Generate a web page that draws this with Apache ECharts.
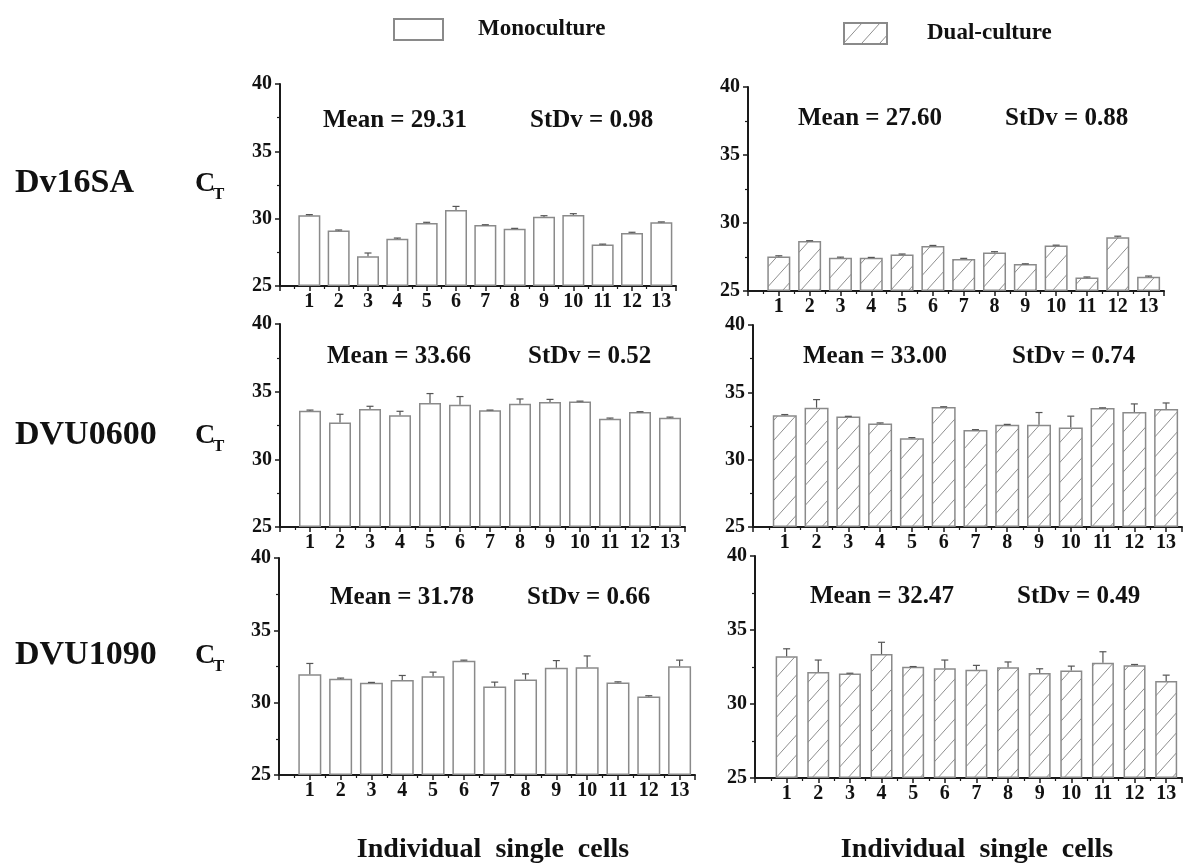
<!DOCTYPE html>
<html>
<head>
<meta charset="utf-8">
<script src="https://cdn.jsdelivr.net/npm/echarts@6/dist/echarts.min.js"></script>
<style>
  html, body { margin: 0; padding: 0; background: #fff; }
  #main { width: 1192px; height: 865px; }
</style>
</head>
<body>
<div id="main"></div>
<script>
// cells on the x axis
var cells = [1, 2, 3, 4, 5, 6, 7, 8, 9, 10, 11, 12, 13];

// CT values (bar height + error bar)
var monoDv16 = [30.25, 29.13, 27.20, 28.51, 29.68, 30.64, 29.53, 29.26, 30.15, 30.27, 28.09, 28.94, 29.73];
var monoDv16Err = [0.05, 0.03, 0.25, 0.05, 0.05, 0.27, 0.02, 0.02, 0.07, 0.10, 0.02, 0.05, 0.03];
var dualDv16 = [27.54, 28.67, 27.44, 27.44, 27.69, 28.30, 27.35, 27.84, 26.98, 28.35, 26.00, 28.96, 26.05];
var dualDv16Err = [0.05, 0.03, 0.05, 0.03, 0.03, 0.05, 0.05, 0.05, 0.02, 0.02, 0.03, 0.07, 0.05];

var monoDVU0600 = [33.59, 32.73, 33.72, 33.25, 34.16, 34.04, 33.62, 34.11, 34.23, 34.28, 33.00, 33.49, 33.07];
var monoDVU0600Err = [0.05, 0.60, 0.20, 0.30, 0.70, 0.60, 0.02, 0.35, 0.20, 0.02, 0.05, 0.03, 0.05];
var dualDVU0600 = [33.30, 33.86, 33.20, 32.68, 31.59, 33.91, 32.21, 32.60, 32.60, 32.38, 33.83, 33.54, 33.76];
var dualDVU0600Err = [0.05, 0.60, 0.02, 0.05, 0.05, 0.02, 0.02, 0.02, 0.90, 0.85, 0.02, 0.60, 0.45];

var monoDVU1090 = [31.97, 31.65, 31.37, 31.56, 31.83, 32.89, 31.12, 31.60, 32.41, 32.45, 31.39, 30.43, 32.52];
var monoDVU1090Err = [0.74, 0.05, 0.03, 0.32, 0.28, 0.05, 0.30, 0.39, 0.50, 0.78, 0.05, 0.05, 0.42];
var dualDVU1090 = [33.23, 32.17, 32.06, 33.37, 32.51, 32.42, 32.31, 32.49, 32.10, 32.26, 32.78, 32.62, 31.55];
var dualDVU1090Err = [0.50, 0.80, 0.02, 0.80, 0.02, 0.55, 0.30, 0.35, 0.28, 0.30, 0.75, 0.05, 0.40];

var genes = ['Dv16SA', 'DVU0600', 'DVU1090'];
var meanLabels = ['29.31', '27.60', '33.66', '33.00', '31.78', '32.47'];
var stdevLabels = ['0.98', '0.88', '0.52', '0.74', '0.66', '0.49'];
var yTicks = [25, 30, 35, 40];

var SERIF = '"Liberation Serif", "DejaVu Serif", serif';

// hatch tile for dual-culture bars
var hatch = document.createElement('canvas');
hatch.width = 18;
hatch.height = 20;
(function () {
  var ctx = hatch.getContext('2d');
  ctx.fillStyle = '#fff';
  ctx.fillRect(0, 0, 18, 20);
  ctx.strokeStyle = '#8f8f8f';
  ctx.lineWidth = 1;
  [-18, 0, 18].forEach(function (dx) {
    ctx.beginPath();
    ctx.moveTo(dx, 20);
    ctx.lineTo(dx + 18, 0);
    ctx.stroke();
  });
})();

// panel placement: left column = monoculture, right column = dual-culture
var panels = [
  { grid: { left: 280, top: 84, width: 396, height: 202 }, name: 'Monoculture', vals: monoDv16, errs: monoDv16Err, bw: 22, mx: 323, sx: 530, ty: 121 },
  { grid: { left: 748, top: 87, width: 416, height: 204 }, name: 'Dual-culture', vals: dualDv16, errs: dualDv16Err, bw: 23, mx: 798, sx: 1005, ty: 119 },
  { grid: { left: 280, top: 324, width: 405, height: 203 }, name: 'Monoculture', vals: monoDVU0600, errs: monoDVU0600Err, bw: 22, mx: 327, sx: 528, ty: 357 },
  { grid: { left: 753, top: 325, width: 429, height: 202 }, name: 'Dual-culture', vals: dualDVU0600, errs: dualDVU0600Err, bw: 24, mx: 803, sx: 1012, ty: 357 },
  { grid: { left: 279, top: 558, width: 416, height: 217 }, name: 'Monoculture', vals: monoDVU1090, errs: monoDVU1090Err, bw: 23, mx: 330, sx: 527, ty: 598 },
  { grid: { left: 755, top: 556, width: 427, height: 222 }, name: 'Dual-culture', vals: dualDVU1090, errs: dualDVU1090Err, bw: 22, mx: 810, sx: 1017, ty: 597 }
];

var axisColor = '#1a1a1a';
var labelStyle = { fontFamily: SERIF, fontWeight: 'bold', fontSize: 20, color: '#111' };

var grids = [], xAxes = [], yAxes = [], series = [];
var graphics = [];

function txt(x, y, s, size, align) {
  graphics.push({
    type: 'text',
    x: x, y: y,
    style: {
      text: s, fill: '#111', font: 'bold ' + size + 'px ' + SERIF,
      textAlign: align || 'left', textVerticalAlign: 'middle'
    }
  });
}

panels.forEach(function (p, i) {
  grids.push(p.grid);
  xAxes.push({
    type: 'value', gridIndex: i, min: 0, max: 13.5, interval: 1,
    axisLine: { lineStyle: { color: axisColor, width: 2 } },
    axisTick: { length: 5, lineStyle: { color: axisColor, width: 1.5 } },
    minorTick: { show: true, splitNumber: 2, length: 3, lineStyle: { color: axisColor, width: 1.2 } },
    splitLine: { show: false },
    axisLabel: Object.assign({
      margin: 6,
      formatter: function (v) { return cells.indexOf(v) >= 0 ? String(v) : ''; }
    }, labelStyle)
  });
  yAxes.push({
    type: 'value', gridIndex: i, min: yTicks[0], max: yTicks[yTicks.length - 1], interval: 5,
    startValue: yTicks[0],
    axisLine: { show: true, lineStyle: { color: axisColor, width: 2 } },
    axisTick: { show: true, length: 5, lineStyle: { color: axisColor, width: 1.5 } },
    minorTick: { show: true, splitNumber: 2, length: 3, lineStyle: { color: axisColor, width: 1.2 } },
    splitLine: { show: false },
    axisLabel: Object.assign({ margin: 8 }, labelStyle)
  });

  var dual = p.name === 'Dual-culture';
  series.push({
    type: 'bar', name: p.name, xAxisIndex: i, yAxisIndex: i,
    barWidth: p.bw, clip: true,
    itemStyle: {
      color: dual ? { image: hatch, repeat: 'repeat' } : '#fff',
      borderColor: '#8a8a8a', borderWidth: 1.5
    },
    emphasis: { disabled: true },
    data: cells.map(function (c, k) { return [c, p.vals[k]]; })
  });
  series.push({
    type: 'custom', xAxisIndex: i, yAxisIndex: i, silent: true,
    renderItem: function (params, api) {
      var x = api.value(0), y = api.value(1), e = api.value(2);
      var base = api.coord([x, y]);
      var top = api.coord([x, y + e]);
      var st = { stroke: '#555', lineWidth: 1.2 };
      return {
        type: 'group',
        children: [
          { type: 'line', shape: { x1: base[0], y1: base[1], x2: top[0], y2: top[1] }, style: st },
          { type: 'line', shape: { x1: top[0] - 3.5, y1: top[1], x2: top[0] + 3.5, y2: top[1] }, style: st }
        ]
      };
    },
    data: cells.map(function (c, k) { return [c, p.vals[k], p.errs[k]]; }),
    z: 3
  });

  txt(p.mx, p.ty, 'Mean = ' + meanLabels[i], 25);
  txt(p.sx, p.ty, 'StDv = ' + stdevLabels[i], 25);
});

// row labels with C_T
var rowY = [183, 435, 655];
genes.forEach(function (g, r) {
  txt(15, rowY[r], g, 34);
  txt(195, rowY[r] + 1, 'C', 28);
  txt(213, rowY[r] + 12, 'T', 17);
});

txt(493, 850, 'Individual  single  cells', 28, 'center');
txt(977, 850, 'Individual  single  cells', 28, 'center');

var legendText = { fontFamily: SERIF, fontWeight: 'bold', fontSize: 23, color: '#111' };

var chart = echarts.init(document.getElementById('main'), null, { renderer: 'canvas' });
chart.setOption({
  backgroundColor: '#fff',
  animation: false,
  legend: [
    { data: ['Monoculture'], left: 393, top: 18, padding: 0, icon: 'rect', itemWidth: 49, itemHeight: 21,
      selectedMode: false, textStyle: Object.assign({ padding: [0, 0, 0, 30] }, legendText) },
    { data: ['Dual-culture'], left: 843, top: 22, padding: 0, icon: 'rect', itemWidth: 43, itemHeight: 21,
      selectedMode: false, textStyle: Object.assign({ padding: [0, 0, 0, 35] }, legendText) }
  ],
  grid: grids,
  xAxis: xAxes,
  yAxis: yAxes,
  series: series,
  graphic: graphics
});
</script>
</body>
</html>
